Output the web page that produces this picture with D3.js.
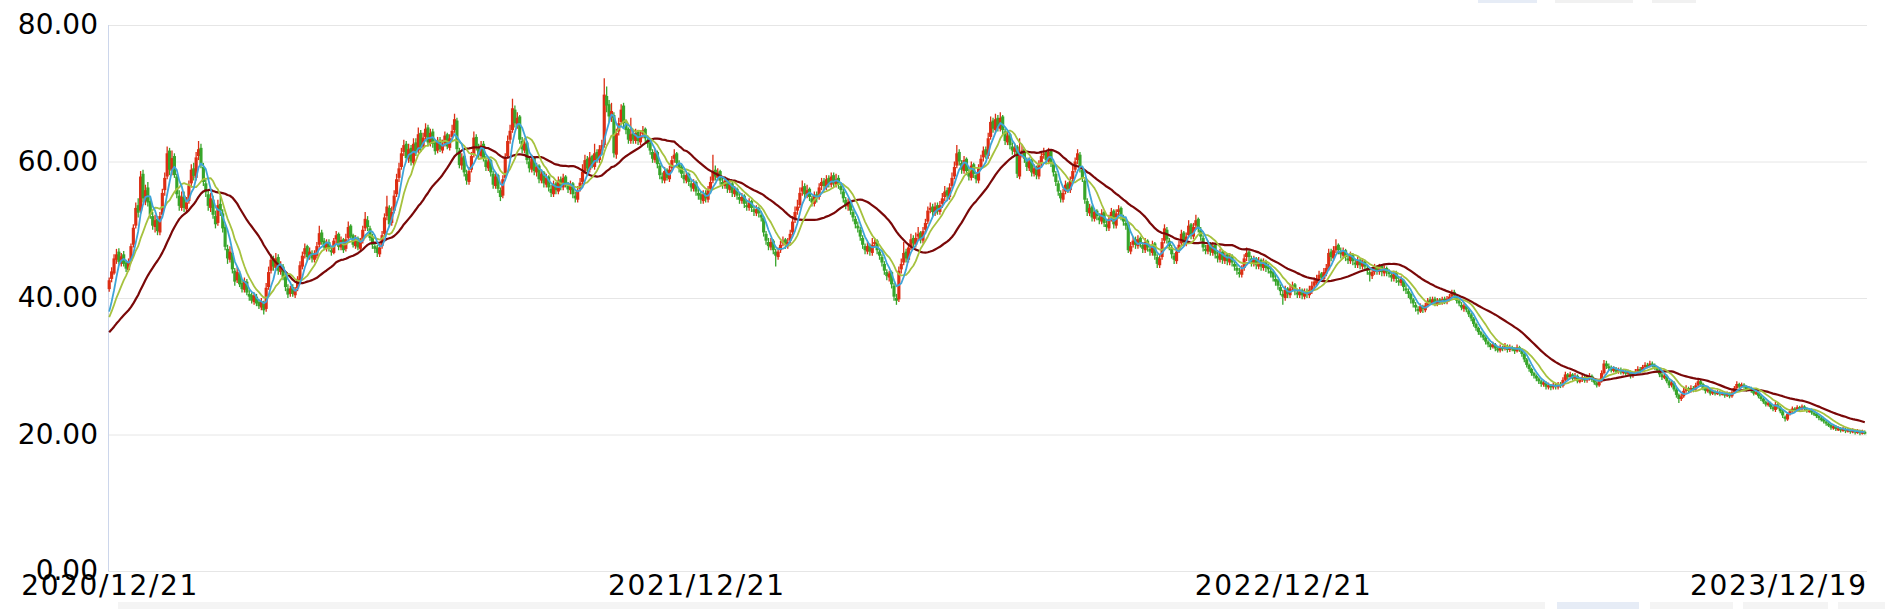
<!DOCTYPE html>
<meta charset="utf-8">
<style>
    body { margin: 0; background: #fff; }
    svg { display: block; }
    .axis text { font-family: "DejaVu Sans", sans-serif; font-size: 28px; fill: #000; }
    .grid line { stroke: #e6e6e6; }
</style>
<svg width="1885" height="609"></svg>
<script src="https://d3js.org/d3.v7.min.js"></script>
<script>

// closes before 2020/12/21, only used to start the moving averages
var priorCloses = [32.6,33.0,32.8,33.4,33.1,33.6,33.2,33.8,34.2,33.9,34.4,34.0,34.5,33.8,34.2,34.6,34.3,34.8,34.4,35.2,
    35.6,36.2,36.0,37.0,37.2,36.6,37.4,36.8,36.6];

// daily candles [open, close, low, high], 2020/12/21 .. 2023/12/19
var candles = [
[41.3,42.6,40.9,43.0],[42.8,43.9,42.3,44.5],[43.6,45.8,43.4,46.4],[45.6,46.4,45.0,47.2],[46.8,45.3,44.9,47.3],[45.0,46.1,44.6,46.6],[46.4,45.0,44.6,46.9],[45.2,44.3,43.8,45.6],[44.1,45.2,43.9,45.8],[45.4,47.6,45.1,48.0],
[47.8,50.3,47.4,50.8],[50.6,53.2,50.2,54.0],[53.6,52.5,51.8,54.6],[52.8,57.8,52.4,58.6],[58.2,54.6,54.0,58.8],[54.2,55.8,53.6,56.6],[56.2,54.0,53.4,57.0],[54.2,52.2,51.6,54.8],[52.0,50.6,50.0,52.6],[50.4,51.4,49.6,52.2],
[51.6,49.8,49.2,52.0],[49.6,52.0,49.2,52.6],[52.2,55.4,51.8,56.0],[55.8,57.6,55.0,58.4],[57.8,61.2,57.4,62.2],[61.6,58.8,58.0,62.0],[58.6,60.5,58.0,61.6],[60.8,58.0,57.6,61.2],[57.8,55.2,54.6,58.2],[55.0,53.5,52.8,55.8],
[53.2,54.8,52.8,55.6],[55.0,53.2,52.6,55.6],[53.0,54.0,52.4,54.8],[54.2,56.5,53.8,57.2],[56.8,58.8,56.2,59.6],[59.0,57.9,57.2,59.8],[57.6,60.6,57.2,61.4],[60.8,61.8,60.2,63.0],[62.0,59.5,59.0,62.6],[59.2,57.0,56.4,59.8],
[56.8,55.5,54.8,57.4],[55.2,53.5,52.8,55.8],[53.2,54.6,52.6,55.4],[54.4,52.2,51.6,55.0],[52.0,50.8,50.2,52.8],[51.0,53.6,50.6,54.4],[53.8,52.7,52.0,55.0],[52.4,50.2,49.6,53.0],[50.4,47.5,47.0,50.8],[47.2,45.8,45.0,47.8],
[45.6,46.8,45.2,47.6],[46.6,44.2,43.6,47.0],[44.0,42.4,41.8,44.4],[42.6,43.8,42.2,44.6],[43.6,42.0,41.6,44.0],[42.2,41.3,40.8,42.8],[41.2,42.5,40.8,43.0],[42.4,40.8,40.4,42.8],[40.6,40.2,39.6,41.2],[40.4,39.6,39.2,40.8],
[39.4,40.4,39.0,40.8],[40.2,39.2,38.8,40.6],[39.4,38.8,38.4,39.8],[38.6,39.5,38.2,40.0],[39.2,38.2,37.6,39.6],[38.4,41.5,38.0,42.2],[41.6,43.8,41.2,44.6],[44.0,45.6,43.6,46.4],[45.8,44.6,44.0,46.2],[44.4,45.8,44.0,46.6],
[46.0,44.0,43.4,46.4],[43.8,44.8,43.4,45.4],[44.6,43.0,42.6,45.0],[43.2,41.6,41.0,43.6],[41.4,40.5,40.0,42.0],[40.6,41.4,40.2,41.8],[41.6,40.6,40.2,42.0],[40.4,41.2,40.0,41.6],[41.4,42.8,41.0,43.2],[42.6,44.8,42.4,45.4],
[44.6,46.2,44.2,46.8],[46.4,47.3,45.8,48.0],[47.6,46.0,45.4,47.8],[46.2,46.8,45.6,47.4],[46.6,45.8,45.2,47.0],[45.6,46.4,45.2,47.0],[46.2,47.6,45.8,48.2],[47.8,49.5,47.4,50.6],[49.6,48.2,47.8,50.0],[48.4,47.4,47.0,48.8],
[47.2,48.0,46.8,48.6],[48.2,47.2,46.8,48.6],[47.0,46.8,46.2,47.6],[46.6,48.4,46.4,48.8],[48.6,49.2,48.0,49.8],[49.4,47.5,47.0,49.6],[47.4,48.5,47.0,49.0],[48.6,47.0,46.6,48.8],[47.2,48.6,46.8,49.4],[48.8,50.4,48.4,51.2],
[50.6,49.0,48.6,50.8],[49.2,47.8,47.4,49.4],[47.6,48.6,47.2,49.2],[48.8,47.4,47.0,49.0],[47.2,48.2,46.8,48.8],[48.4,50.0,48.0,50.6],[50.2,51.6,49.8,52.6],[51.4,50.4,49.8,52.0],[50.2,48.8,48.4,50.6],[49.0,47.8,47.2,49.4],
[47.6,47.2,46.6,48.2],[47.4,46.6,46.0,47.8],[46.4,47.4,46.0,48.0],[47.6,49.2,47.2,49.8],[49.4,51.8,49.0,52.4],[52.0,53.4,51.4,55.0],[53.2,50.8,50.4,53.6],[51.0,52.6,50.6,53.4],[52.8,55.0,52.4,55.8],[55.2,57.4,54.8,58.2],
[57.6,59.0,57.0,59.8],[59.2,61.2,58.8,62.0],[61.4,62.4,60.8,63.2],[62.6,60.5,60.0,63.0],[60.4,61.8,59.8,62.6],[62.0,60.0,59.4,62.4],[59.8,62.6,59.4,63.4],[62.8,61.4,60.8,63.4],[61.6,64.0,61.2,65.0],[64.2,62.0,61.4,64.6],
[62.2,63.5,61.8,64.2],[63.6,64.8,63.0,65.6],[65.0,62.8,62.2,65.4],[62.6,64.2,62.2,64.8],[64.4,62.6,62.0,64.8],[62.8,61.5,61.0,63.2],[61.6,63.0,61.2,63.6],[63.2,61.8,61.4,63.6],[61.6,62.5,61.2,63.2],[62.6,63.8,62.2,64.4],
[64.0,62.2,61.8,64.2],[62.0,63.4,61.6,64.0],[63.6,64.5,63.0,65.4],[64.6,66.2,64.2,67.0],[66.0,61.8,61.2,66.4],[61.6,59.5,59.0,62.0],[59.4,60.6,58.8,61.2],[60.8,58.4,57.8,61.0],[58.2,57.2,56.6,58.8],[57.0,58.6,56.6,59.2],
[58.8,60.8,58.4,61.4],[61.0,63.5,60.6,64.4],[63.6,62.2,61.6,64.0],[62.0,61.0,60.4,62.6],[60.8,62.4,60.4,63.0],[62.6,60.4,60.0,63.0],[60.2,59.2,58.6,60.8],[59.0,60.0,58.6,60.6],[60.2,58.4,57.8,60.4],[58.2,56.6,56.0,58.6],
[56.4,57.8,56.0,58.4],[58.0,56.0,55.4,58.2],[55.8,54.8,54.2,56.2],[55.0,57.4,54.6,58.0],[57.6,60.6,57.2,61.2],[60.8,63.0,60.4,63.8],[63.2,64.5,62.6,65.4],[64.6,67.8,64.2,69.2],[67.6,65.6,65.0,68.2],[65.4,66.4,64.8,67.2],
[66.6,63.2,62.6,66.8],[63.0,61.8,61.2,63.6],[61.6,62.6,61.2,63.4],[62.8,60.2,59.6,63.0],[60.0,59.0,58.4,60.6],[58.8,60.4,58.4,61.0],[60.6,58.6,58.0,60.8],[58.4,59.2,57.8,59.8],[59.4,57.4,56.8,59.6],[57.2,58.2,56.8,58.8],
[58.4,56.8,56.2,58.6],[56.6,57.6,56.2,58.2],[57.8,56.2,55.6,58.0],[56.0,55.4,54.8,56.6],[55.2,56.6,54.8,57.2],[56.8,55.8,55.2,57.0],[55.6,57.2,55.2,57.8],[57.4,56.4,55.8,57.8],[56.2,57.6,55.8,58.2],[57.8,56.8,56.2,58.0],
[56.6,55.9,55.4,57.0],[55.8,56.6,55.2,57.2],[56.8,55.2,54.6,57.0],[55.0,54.6,54.0,55.6],[54.4,55.8,54.0,56.4],[56.0,56.9,55.6,57.6],[57.0,58.5,56.6,59.6],[58.6,60.2,58.2,61.0],[60.4,59.0,58.4,60.8],[58.8,60.6,58.4,61.4],
[60.8,59.4,59.0,61.0],[59.2,61.2,58.8,62.6],[61.4,60.4,59.8,61.8],[60.2,61.8,59.8,62.4],[61.6,62.4,61.0,63.2],[62.4,69.8,62.0,72.2],[69.6,68.2,67.2,71.0],[68.4,66.6,65.8,69.0],[66.4,67.4,65.8,68.6],[66.8,61.2,60.6,67.2],
[61.0,64.2,60.4,64.8],[64.4,65.6,63.8,66.4],[65.8,67.6,65.4,68.4],[68.2,65.6,65.0,68.6],[65.4,64.6,64.0,66.0],[64.8,63.2,62.6,65.0],[63.0,64.0,62.6,66.4],[64.2,63.2,62.6,64.6],[63.0,64.2,62.6,64.8],[64.4,63.0,62.4,64.6],
[62.8,63.8,62.4,64.6],[64.0,64.6,63.4,65.2],[64.8,63.4,62.8,65.0],[63.2,62.6,62.0,63.8],[62.8,61.6,61.0,63.0],[61.4,60.4,59.8,61.8],[60.2,61.2,59.8,61.8],[61.4,59.6,59.0,61.6],[59.4,58.0,57.4,59.8],[57.8,57.4,56.8,58.4],
[57.2,58.6,56.8,59.2],[58.8,57.6,57.2,59.0],[57.4,58.8,57.0,59.4],[59.0,60.2,58.6,60.8],[60.4,61.0,59.8,61.8],[61.2,59.8,59.2,61.4],[59.6,59.0,58.4,60.2],[59.2,58.2,57.6,59.6],[58.0,57.4,56.8,58.6],[57.2,58.0,56.8,58.6],
[58.2,57.0,56.4,58.4],[56.8,56.2,55.6,57.2],[56.0,56.8,55.6,57.4],[57.0,55.6,55.0,57.2],[55.4,55.0,54.4,56.0],[55.2,54.4,53.8,55.6],[54.2,55.2,53.8,55.8],[55.4,54.6,54.0,55.8],[54.4,55.8,54.0,56.4],[56.0,57.0,55.6,57.8],
[57.2,58.6,56.8,61.0],[58.8,57.8,57.2,59.4],[57.6,58.4,57.2,59.0],[58.6,57.2,56.6,58.8],[57.0,56.6,56.0,57.6],[56.4,57.2,56.0,57.8],[57.4,56.0,55.4,57.6],[55.8,56.6,55.4,57.2],[56.8,55.4,54.8,57.0],[55.2,55.8,54.8,56.4],
[56.0,55.0,54.4,56.2],[54.8,54.4,53.8,55.4],[54.2,54.8,53.8,55.4],[55.0,53.8,53.2,55.2],[53.6,53.4,52.8,54.2],[53.2,54.0,52.8,54.6],[54.2,53.2,52.6,54.4],[53.0,52.6,52.0,53.6],[52.4,53.0,52.0,53.6],[53.2,52.4,51.8,53.4],
[52.2,51.8,51.2,52.8],[51.8,49.6,49.0,52.0],[49.4,48.4,47.8,49.8],[48.2,47.6,47.0,48.8],[47.4,48.2,47.0,48.8],[48.4,47.0,46.4,48.6],[46.8,46.2,44.6,47.2],[46.0,46.8,45.6,47.4],[47.0,47.8,46.6,48.4],[48.0,48.4,47.6,49.0],
[48.6,47.8,47.2,48.8],[47.6,48.2,47.2,48.8],[48.4,49.4,48.0,50.0],[49.6,51.2,49.2,52.0],[51.4,52.6,51.0,53.4],[52.8,53.4,52.2,54.4],[53.6,55.4,53.2,56.2],[55.6,56.2,55.0,57.2],[56.4,55.2,54.6,56.8],[55.0,55.8,54.6,56.6],
[56.0,54.8,54.2,56.2],[54.6,54.0,53.4,55.0],[53.8,55.0,53.4,55.6],[55.2,54.6,54.0,55.6],[54.8,56.2,54.4,56.8],[56.4,57.0,55.8,57.6],[57.2,56.4,55.8,57.6],[56.2,57.4,55.8,58.0],[57.6,56.8,56.2,58.0],[56.6,57.8,56.2,58.4],
[58.0,56.8,56.2,58.4],[56.6,57.4,56.2,58.2],[57.6,56.6,56.0,58.0],[56.4,55.8,55.2,56.8],[55.6,54.6,54.0,56.0],[54.4,53.6,53.0,54.8],[53.4,54.0,52.8,54.6],[54.2,52.8,52.2,54.4],[52.6,51.8,51.2,53.0],[51.6,50.8,50.2,52.0],
[50.6,50.2,49.6,51.2],[50.0,49.0,48.4,50.4],[48.8,47.8,47.2,49.2],[47.6,47.0,46.4,48.0],[46.8,47.6,46.4,48.2],[47.8,46.8,46.2,48.0],[46.6,47.8,46.2,48.8],[48.0,48.2,47.4,48.8],[48.4,47.0,46.4,48.6],[46.8,46.2,45.6,47.2],
[46.0,45.2,44.6,46.4],[45.0,44.0,43.4,45.4],[43.8,43.2,42.6,44.2],[43.0,43.6,42.4,44.0],[43.8,42.0,41.4,44.0],[41.8,40.2,39.6,42.2],[40.0,39.6,39.0,40.6],[39.8,44.0,39.4,44.6],[44.2,45.0,43.6,45.8],[45.2,46.6,44.8,48.2],
[46.8,45.8,45.2,47.2],[45.6,47.4,45.2,48.0],[47.6,48.6,47.0,49.4],[48.8,48.0,47.4,49.2],[47.8,48.8,47.4,49.6],[49.0,49.4,48.4,50.4],[49.6,48.6,48.0,49.8],[48.4,49.8,48.0,50.4],[50.0,51.0,49.4,51.6],[51.2,52.8,50.8,53.4],
[53.0,53.2,52.4,54.0],[53.4,52.6,52.0,53.8],[52.4,53.4,52.0,54.0],[53.6,52.8,52.2,54.0],[52.6,53.6,52.2,54.2],[53.8,54.6,53.2,55.4],[54.8,55.6,54.2,56.4],[55.8,55.0,54.4,56.2],[54.8,56.2,54.4,56.8],[56.4,57.6,56.0,58.4],
[57.8,59.2,57.4,60.0],[59.4,61.2,59.0,62.4],[61.4,60.0,59.4,61.8],[59.8,58.8,58.2,60.2],[58.6,60.2,58.2,60.8],[60.4,58.6,58.0,60.6],[58.4,57.8,57.2,59.0],[57.6,59.4,57.2,60.0],[59.6,58.2,57.6,59.8],[58.0,57.4,56.8,58.4],
[57.2,59.0,56.8,59.6],[59.2,60.4,58.8,61.0],[60.6,61.6,60.0,62.2],[61.8,61.0,60.4,62.2],[60.8,63.4,60.4,64.2],[63.6,65.8,63.2,66.6],[66.0,64.8,64.2,66.4],[64.6,66.2,64.2,67.0],[66.4,65.0,64.4,66.8],[64.8,66.4,64.4,67.2],
[66.6,64.6,64.0,66.8],[64.4,63.0,62.4,64.8],[62.8,63.8,62.4,64.4],[64.0,62.4,61.8,64.2],[62.2,61.6,61.0,62.8],[61.4,62.0,60.8,62.6],[62.2,58.2,57.6,62.4],[57.8,61.0,57.4,63.4],[61.2,61.6,60.6,62.4],[61.8,60.4,59.8,62.0],
[60.2,59.2,58.6,60.6],[59.0,60.0,58.6,60.6],[60.2,58.4,57.8,60.4],[58.2,59.0,57.8,59.6],[59.2,58.0,57.4,59.4],[57.8,59.6,57.4,60.2],[59.8,60.8,59.2,61.4],[61.0,61.2,60.4,62.0],[61.4,60.2,59.6,61.6],[60.0,61.4,59.6,62.0],
[61.6,59.8,59.2,61.8],[59.6,58.4,57.8,60.0],[58.2,57.0,56.4,58.6],[56.8,55.6,55.0,57.2],[55.4,54.6,54.0,55.8],[54.4,55.4,54.0,56.0],[55.6,56.6,55.2,57.2],[56.8,56.0,55.4,57.0],[55.8,57.2,55.4,57.8],[57.4,58.6,57.0,59.4],
[58.8,60.0,58.4,60.6],[60.2,61.2,59.6,61.8],[61.0,59.0,58.4,61.4],[58.8,57.6,57.0,59.2],[57.2,54.4,53.8,57.4],[54.2,52.6,52.0,54.6],[52.4,53.2,52.0,53.8],[53.4,51.8,51.2,53.6],[51.6,52.6,51.2,53.2],[52.8,52.0,51.4,53.0],
[51.8,51.4,50.8,52.4],[51.2,52.4,50.8,53.0],[52.6,51.0,50.4,52.8],[50.8,50.4,49.8,51.4],[50.2,51.6,49.8,52.2],[51.8,52.6,51.2,53.2],[52.8,50.8,50.2,53.0],[50.6,52.4,50.2,53.0],[52.6,53.0,52.0,53.6],[53.2,52.0,51.4,53.4],
[51.8,51.2,50.6,52.2],[51.0,50.6,50.0,51.6],[50.8,47.0,46.6,51.0],[46.8,47.6,46.4,48.2],[47.8,48.4,47.4,49.0],[48.6,47.8,47.2,49.0],[47.6,48.6,47.2,49.2],[48.8,48.0,47.4,49.0],[47.8,47.2,46.6,48.2],[47.0,48.2,46.6,48.8],
[48.4,47.4,46.8,48.6],[47.2,46.8,46.2,47.6],[46.6,47.8,46.2,48.4],[48.0,46.2,45.6,48.2],[46.0,45.0,44.4,46.4],[44.8,45.8,44.4,46.4],[46.0,48.2,45.6,48.8],[48.4,50.2,48.0,50.8],[50.0,48.6,48.0,50.4],[48.4,47.6,47.0,48.8],
[47.4,46.4,45.8,47.8],[46.2,45.6,45.0,46.6],[45.4,46.8,45.0,47.4],[47.0,47.8,46.6,48.4],[48.0,49.4,47.6,50.0],[49.6,48.2,47.6,49.8],[48.0,49.0,47.6,49.6],[49.2,50.6,48.8,51.4],[50.8,49.2,48.6,51.0],[49.0,50.4,48.6,51.0],
[50.6,51.4,50.0,52.2],[51.6,50.2,49.6,51.8],[50.0,49.0,48.4,50.4],[48.8,47.4,46.8,49.2],[47.2,47.0,46.4,47.8],[46.8,47.8,46.4,48.4],[48.0,46.8,46.2,48.2],[46.6,47.6,46.2,48.2],[47.8,46.4,45.8,48.0],[46.2,45.8,45.2,46.8],
[45.6,46.6,45.2,47.2],[46.8,45.6,45.0,47.0],[45.4,46.2,45.0,46.8],[46.4,45.4,44.8,46.6],[45.2,46.0,44.8,46.6],[46.2,45.2,44.6,46.4],[45.0,44.6,44.0,45.6],[44.4,44.0,43.4,45.0],[43.8,43.6,43.0,44.4],[43.4,44.2,43.0,44.8],
[44.4,45.8,44.0,46.4],[46.0,46.6,45.4,47.4],[46.8,46.0,45.4,47.0],[45.8,45.2,44.6,46.2],[45.0,45.6,44.6,46.2],[45.8,44.8,44.2,46.0],[44.6,45.4,44.2,46.0],[45.6,44.6,44.0,45.8],[44.4,45.2,44.0,45.8],[45.4,44.4,43.8,45.6],
[44.6,44.2,43.6,45.0],[44.0,43.6,43.0,44.6],[43.8,43.0,42.4,44.0],[42.8,42.4,41.8,43.4],[42.6,41.8,41.2,42.8],[41.6,41.0,40.4,42.0],[40.6,40.2,39.0,41.2],[40.0,41.2,39.6,41.8],[41.4,40.6,40.0,41.6],[40.4,41.4,40.0,42.0],
[41.6,41.8,41.0,42.4],[42.0,41.0,40.4,42.2],[40.8,40.6,40.0,41.4],[40.4,41.0,40.0,41.6],[41.2,40.4,39.8,41.4],[40.2,40.8,39.8,41.4],[41.0,40.6,40.0,41.4],[40.4,41.2,40.0,41.8],[41.0,41.8,40.6,42.4],[41.8,42.4,41.4,43.0],
[42.2,42.8,41.8,43.4],[42.8,43.4,42.4,44.0],[43.6,43.0,42.4,43.8],[42.8,43.8,42.4,44.4],[43.6,44.4,43.2,45.0],[44.2,46.6,44.0,47.2],[46.8,46.0,45.4,47.2],[45.8,47.0,45.4,47.6],[47.0,47.6,46.6,48.6],[47.8,47.0,46.4,48.0],
[46.8,46.4,45.8,47.4],[46.2,46.8,45.8,47.4],[47.0,46.0,45.4,47.2],[45.8,45.6,45.0,46.4],[45.4,46.2,45.0,46.8],[46.4,45.4,44.8,46.6],[45.2,45.0,44.4,45.8],[44.8,45.5,44.4,46.0],[45.6,44.8,44.2,45.8],[44.6,45.2,44.2,45.8],
[45.4,44.6,44.0,45.6],[44.4,44.0,43.4,44.8],[43.8,43.4,42.4,44.2],[43.2,43.8,42.8,44.4],[43.8,44.4,43.4,45.0],[44.6,44.0,43.4,44.8],[43.8,44.6,43.4,45.0],[44.8,43.8,43.2,45.0],[43.6,44.2,43.2,44.8],[44.4,43.8,43.2,44.6],
[43.8,43.6,43.0,44.2],[43.4,43.0,42.4,43.8],[42.8,43.6,42.4,44.0],[43.8,42.8,42.2,44.0],[42.6,42.4,41.8,43.2],[42.2,42.8,41.8,43.2],[42.6,41.6,41.0,42.8],[41.4,41.2,40.6,42.0],[41.0,40.6,40.0,41.4],[40.6,39.8,39.2,40.8],
[39.8,39.2,38.6,40.0],[39.0,38.6,38.0,39.4],[38.4,38.2,37.6,38.8],[38.0,38.8,37.8,39.2],[38.8,38.4,37.8,39.0],[38.2,38.9,37.9,39.3],[38.8,39.6,38.6,40.0],[39.8,39.4,39.0,40.2],[39.2,39.8,39.0,40.2],[39.9,39.2,38.8,40.2],
[39.0,39.6,38.8,40.0],[39.8,39.4,39.0,40.0],[39.2,39.8,39.0,40.2],[39.9,39.5,39.1,40.2],[39.4,39.9,39.1,40.3],[39.8,40.2,39.5,40.6],[40.2,40.8,39.9,41.2],[40.9,40.4,40.0,41.2],[40.4,39.6,39.2,40.6],[39.6,39.2,38.8,39.9],
[39.0,38.6,38.2,39.4],[38.4,38.9,38.0,39.2],[38.8,38.3,37.9,39.0],[38.2,37.6,37.2,38.4],[37.6,37.0,36.6,37.8],[37.0,36.2,35.8,37.2],[36.2,35.6,35.2,36.4],[35.6,35.0,34.6,35.8],[35.0,34.6,34.2,35.2],[34.6,34.2,33.8,34.8],
[34.2,33.6,33.2,34.4],[33.6,33.2,32.8,33.8],[33.2,32.8,32.4,33.4],[32.8,33.2,32.6,33.6],[33.2,32.6,32.2,33.4],[32.6,32.4,32.0,33.0],[32.3,32.8,32.0,33.2],[32.8,32.6,32.2,33.0],[32.6,33.0,32.3,33.4],[33.0,32.4,32.0,33.2],
[32.4,32.8,32.1,33.2],[32.8,32.6,32.2,33.0],[32.6,32.2,31.8,32.8],[32.2,32.8,32.0,33.2],[32.8,32.5,32.1,33.0],[32.4,31.8,31.4,32.6],[31.8,31.0,30.6,32.0],[31.0,30.2,29.8,31.2],[30.2,29.6,29.2,30.4],[29.6,29.0,28.6,29.8],
[29.0,28.6,28.2,29.2],[28.6,28.2,27.8,28.8],[28.2,27.8,27.4,28.4],[27.8,27.4,27.0,28.0],[27.3,27.6,27.0,28.0],[27.6,27.0,26.6,27.8],[26.9,27.2,26.6,27.6],[27.2,26.9,26.5,27.4],[26.9,27.3,26.6,27.6],[27.3,27.0,26.6,27.5],
[26.9,27.4,26.6,27.7],[27.4,27.2,26.8,27.7],[27.1,28.0,26.9,28.4],[28.0,28.8,27.8,29.2],[28.8,28.4,28.0,29.0],[28.4,28.8,28.1,29.2],[28.8,28.2,27.9,29.0],[28.2,28.6,27.9,29.0],[28.6,27.8,27.5,28.8],[27.8,28.0,27.5,28.4],
[28.0,28.4,27.7,28.8],[28.4,27.9,27.6,28.6],[27.9,28.2,27.6,28.6],[28.2,28.6,27.9,29.0],[28.6,28.0,27.7,28.8],[28.0,27.6,27.3,28.2],[27.6,27.2,26.9,27.8],[27.2,27.8,27.0,28.2],[27.8,29.0,27.6,29.4],[29.0,30.4,28.8,30.9],
[30.4,30.0,29.6,30.8],[30.0,29.8,29.4,30.4],[29.8,29.4,29.1,30.1],[29.4,29.6,29.1,30.0],[29.6,29.2,28.9,29.9],[29.2,29.5,28.9,29.8],[29.5,29.1,28.8,29.8],[29.1,29.3,28.8,29.6],[29.3,28.9,28.5,29.6],[28.9,29.2,28.6,29.5],
[29.2,28.6,28.2,29.4],[28.6,28.9,28.3,29.2],[28.9,29.2,28.6,29.6],[29.2,29.6,28.9,30.0],[29.6,29.4,29.0,29.9],[29.4,29.9,29.1,30.2],[29.9,30.2,29.6,30.6],[30.2,30.0,29.7,30.5],[30.0,30.4,29.8,30.8],[30.4,30.2,29.8,30.7],
[30.2,29.8,29.5,30.4],[29.8,29.4,29.0,30.0],[29.4,28.8,28.4,29.6],[28.8,28.4,28.0,29.0],[28.4,28.6,28.1,29.0],[28.6,27.8,27.5,28.8],[27.8,27.2,26.8,28.0],[27.2,27.6,26.9,28.0],[27.6,26.6,26.3,27.8],[26.6,25.8,25.4,26.8],
[25.8,25.2,24.6,26.0],[25.2,25.6,24.9,26.0],[25.6,26.4,25.4,26.8],[26.4,26.8,26.1,27.2],[26.8,26.4,26.1,27.0],[26.4,26.8,26.1,27.2],[26.8,26.6,26.2,27.1],[26.6,27.2,26.4,27.6],[27.2,27.8,27.0,28.2],[27.8,27.4,27.0,28.0],
[27.4,26.8,26.5,27.6],[26.8,26.4,26.0,27.0],[26.4,26.6,26.1,27.0],[26.6,26.0,25.7,26.8],[26.0,26.3,25.8,26.6],[26.3,26.0,25.7,26.5],[26.0,26.2,25.8,26.5],[26.2,25.9,25.6,26.4],[25.9,26.1,25.7,26.4],[26.1,25.7,25.4,26.3],
[25.7,26.0,25.5,26.3],[26.0,25.6,25.3,26.2],[25.6,26.2,25.4,26.5],[26.2,26.8,26.0,27.1],[26.8,27.4,26.6,27.8],[27.4,27.0,26.7,27.6],[27.0,27.3,26.8,27.6],[27.3,27.0,26.7,27.5],[27.0,26.6,26.3,27.2],[26.6,26.8,26.4,27.1],
[26.8,26.4,26.1,27.0],[26.4,26.0,25.7,26.6],[26.0,26.2,25.8,26.5],[26.2,25.6,25.3,26.3],[25.6,25.2,24.9,25.8],[25.2,24.8,24.5,25.4],[24.8,24.4,24.1,25.0],[24.4,24.6,24.1,24.9],[24.6,24.0,23.7,24.8],[24.0,23.8,23.4,24.2],
[23.6,24.4,23.3,24.8],[24.4,24.0,23.7,24.6],[24.0,23.4,23.1,24.2],[23.4,22.8,22.4,23.6],[22.6,22.4,21.9,22.8],[22.2,23.0,22.0,23.3],[23.0,23.4,22.8,23.7],[23.4,23.8,23.2,24.1],[23.8,23.6,23.3,24.0],[23.6,24.0,23.4,24.3],
[24.0,23.7,23.4,24.2],[23.7,24.1,23.5,24.4],[24.1,23.8,23.5,24.3],[23.8,23.5,23.2,24.0],[23.5,23.6,23.2,23.9],[23.6,23.2,22.9,23.8],[23.2,23.0,22.7,23.4],[23.0,22.7,22.4,23.2],[22.7,22.4,22.1,22.9],[22.4,22.2,21.9,22.6],
[22.2,21.9,21.6,22.4],[21.9,21.6,21.3,22.1],[21.6,21.4,21.1,21.8],[21.4,21.0,20.7,21.6],[20.9,21.2,20.7,21.5],[21.2,20.8,20.5,21.4],[20.7,20.9,20.5,21.2],[20.9,20.6,20.3,21.1],[20.6,20.8,20.4,21.1],[20.8,20.5,20.2,21.0],
[20.5,20.7,20.3,21.0],[20.7,20.4,20.1,20.9],[20.4,20.6,20.2,20.9],[20.6,20.3,20.0,20.8],[20.3,20.5,20.1,20.8],[20.5,20.2,19.9,20.7],[20.2,20.4,20.0,20.7],[20.4,20.3,20.0,20.6]
];

var yTicks = [0, 20, 40, 60, 80];
var dateTickIndex = [0, 243, 486, 727];
var dateTickLabels = ["2020/12/21", "2021/12/21", "2022/12/21", "2023/12/19"];
var maPeriods = [30, 10, 5];
var maColors = ["#7a0808", "#a6c23e", "#3fa4d8"];
var maWidths = [2.2, 1.8, 1.8];
var upColor = "#dc2e14",
    downColor = "#37a52a";

var svg = d3.select("svg"),
    margin = {top: 25, right: 19, bottom: 38, left: 108},
    width = +svg.attr("width") - margin.left - margin.right,
    height = +svg.attr("height") - margin.top - margin.bottom;

// faint remains of the range buttons and navigator around the plot
var deco = svg.append("g");
[[1478, 0, 59, 3, "#e6ecf6"], [1555, 0, 78, 3, "#f1f1f1"], [1652, 0, 44, 3, "#f1f1f1"],
 [118, 602, 1427, 7, "#f4f4f4"], [1557, 602, 82, 7, "#e6ecf6"], [1650, 602, 83, 7, "#f4f4f4"],
 [1743, 602, 85, 7, "#f4f4f4"], [1838, 602, 47, 7, "#f4f4f4"]].forEach(function(r) {
    deco.append("rect").attr("x", r[0]).attr("y", r[1]).attr("width", r[2]).attr("height", r[3]).attr("fill", r[4]);
});

var g = svg.append("g").attr("transform", "translate(" + margin.left + "," + margin.top + ")");

var x = d3.scaleBand()
    .domain(d3.range(candles.length))
    .range([0, width]);

var y = d3.scaleLinear()
    .domain([0, 80])
    .range([height, 0]);

var step = x.step(),
    bodyW = step * 1.3;

// y axis with grid lines
var yAxis = g.append("g")
    .attr("class", "axis grid")
    .call(d3.axisLeft(y).tickValues(yTicks).tickSize(-width - 1).tickPadding(10).tickFormat(d3.format(".2f")));
yAxis.select(".domain").remove();
yAxis.selectAll("text").attr("font-family", null).attr("font-size", null);

g.append("line")
    .attr("x1", 0.5).attr("x2", 0.5)
    .attr("y1", 0).attr("y2", height)
    .attr("stroke", "#ccd6eb");

// date labels
var xAxis = g.append("g")
    .attr("class", "axis")
    .attr("transform", "translate(0," + height + ")")
    .call(d3.axisBottom(x).tickValues(dateTickIndex).tickSize(0).tickPadding(4)
        .tickFormat(function(d) { return dateTickLabels[dateTickIndex.indexOf(d)]; }));
xAxis.select(".domain").remove();
xAxis.selectAll("text")
    .attr("font-family", null).attr("font-size", null)
    .attr("textLength", 176).attr("lengthAdjust", "spacing");
xAxis.selectAll(".tick").filter(function(d) { return d === candles.length - 1; })
    .select("text").attr("text-anchor", "end").attr("x", step / 2);

// candles
var candle = g.append("g").selectAll("g")
    .data(candles)
    .join("g")
    .attr("fill", function(d) { return d[1] >= d[0] ? upColor : downColor; })
    .attr("stroke", function(d) { return d[1] >= d[0] ? upColor : downColor; });

candle.append("line")
    .attr("x1", function(d, i) { return x(i) + step / 2; })
    .attr("x2", function(d, i) { return x(i) + step / 2; })
    .attr("y1", function(d) { return y(d[3]); })
    .attr("y2", function(d) { return y(d[2]); })
    .attr("stroke-width", 1.3);

candle.append("rect")
    .attr("stroke", "none")
    .attr("x", function(d, i) { return x(i) + (step - bodyW) / 2; })
    .attr("width", bodyW)
    .attr("y", function(d) { return y(Math.max(d[0], d[1])); })
    .attr("height", function(d) { return Math.max(2, Math.abs(y(d[0]) - y(d[1]))); });

// moving averages of the close
var allCloses = priorCloses.concat(candles.map(function(d) { return d[1]; }));
var offset = priorCloses.length;

var line = d3.line()
    .x(function(d) { return x(d.i) + step / 2; })
    .y(function(d) { return y(d.v); });

maPeriods.forEach(function(p, k) {
    var pts = candles.map(function(d, i) {
        var j = i + offset;
        return {i: i, v: d3.mean(allCloses.slice(j - p + 1, j + 1))};
    });
    g.append("path")
        .datum(pts)
        .attr("fill", "none")
        .attr("stroke", maColors[k])
        .attr("stroke-width", maWidths[k])
        .attr("stroke-linejoin", "round")
        .attr("d", line);
});

</script>
